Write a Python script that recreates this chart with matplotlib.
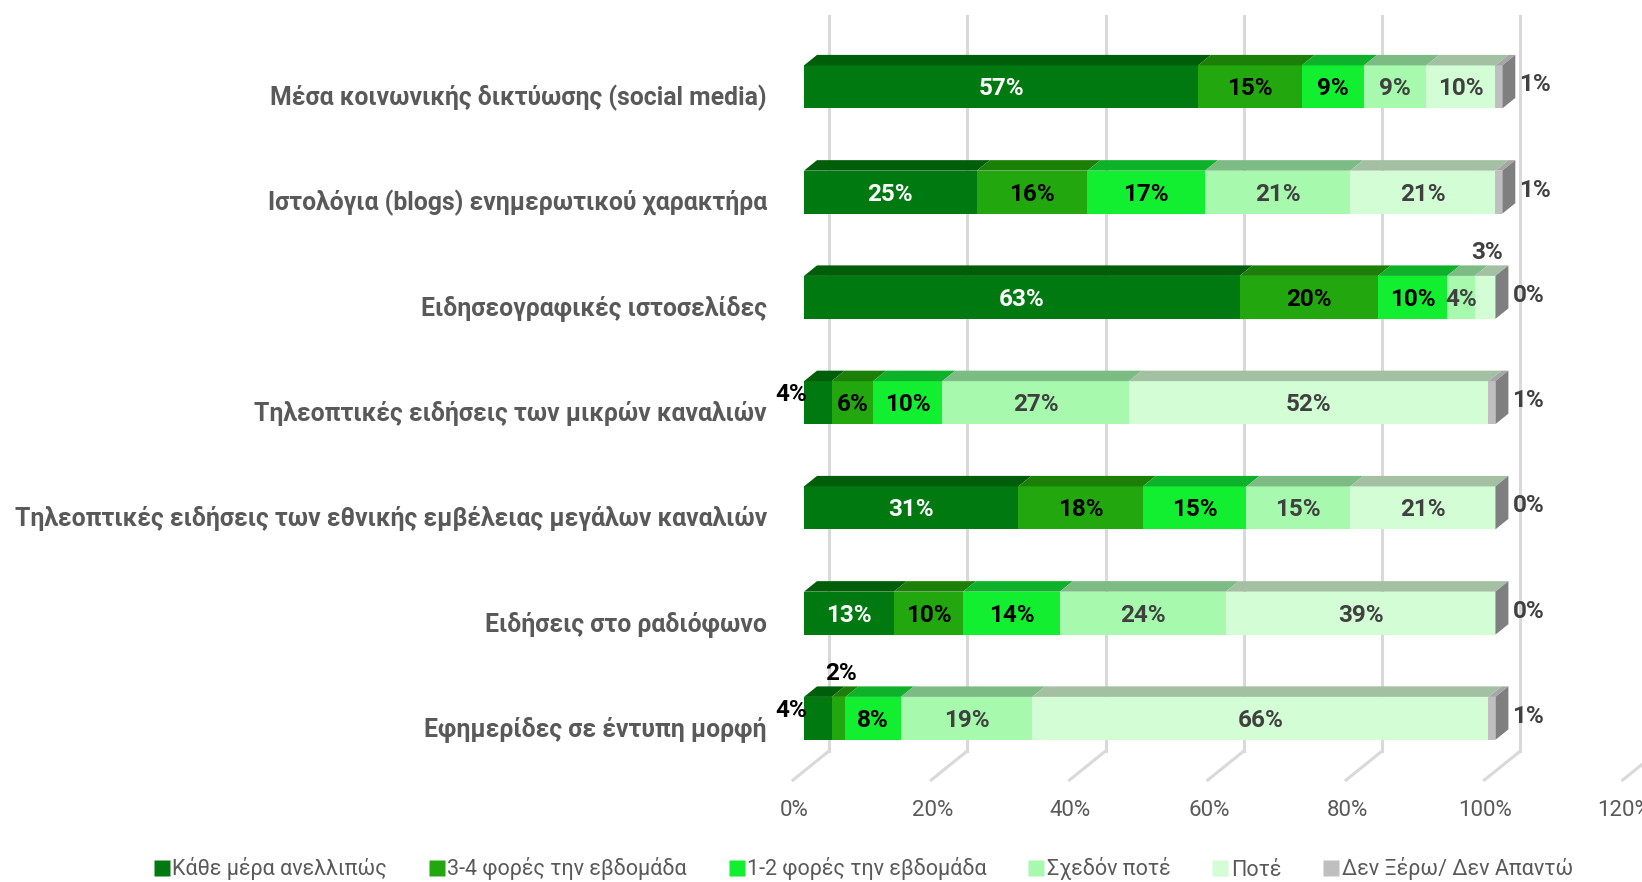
import matplotlib.pyplot as plt
from matplotlib.patches import Polygon
from matplotlib.lines import Line2D

plt.rcParams['font.family'] = ['Roboto', 'DejaVu Sans']

categories = [
    'Μέσα κοινωνικής δικτύωσης (social media)',
    'Ιστολόγια (blogs) ενημερωτικού χαρακτήρα',
    'Ειδησεογραφικές ιστοσελίδες',
    'Τηλεοπτικές ειδήσεις των μικρών καναλιών',
    'Τηλεοπτικές ειδήσεις των εθνικής εμβέλειας μεγάλων καναλιών',
    'Ειδήσεις στο ραδιόφωνο',
    'Εφημερίδες σε έντυπη μορφή',
]
series_names = ['Κάθε μέρα ανελλιπώς', '3-4 φορές την εβδομάδα', '1-2 φορές την εβδομάδα',
                'Σχεδόν ποτέ', 'Ποτέ', 'Δεν Ξέρω/ Δεν Απαντώ']
every_day = [57, 25, 63, 4, 31, 13, 4]
three_four = [15, 16, 20, 6, 18, 10, 2]
one_two = [9, 17, 10, 10, 15, 14, 8]
almost_never = [9, 21, 4, 27, 15, 24, 19]
never = [10, 21, 3, 52, 21, 39, 66]
dont_know = [1, 1, 0, 1, 0, 0, 1]
ticks = [0, 20, 40, 60, 80, 100, 120]

series = [every_day, three_four, one_two, almost_never, never, dont_know]
front_colors = ['#007A10', '#22A80E', '#12EE30', '#A6F9AD', '#D3FDD4', '#BFBFBF']
top_colors = ['#005E0A', '#1C8008', '#0EB12A', '#7DBB85', '#A3C1A2', '#A6A6A6']
side_color = '#7F7F7F'
label_colors = ['white', 'black', 'black', '#404040', '#404040', '#404040']

# pixel geometry of the 3d-looking chart
W, H = 1642, 882
X0_PX, PX_PER_PCT = 804, 6.914      # front face 0% and scale
Y0_PX, PX_PER_ROW = 86.9, 105.25    # first bar centre (from top) and spacing


def px(d):
    return d / PX_PER_PCT


def rows(d):
    return d / PX_PER_ROW


bar_h = rows(43)
ddx, ddy = px(13), rows(10.5)       # bar depth
back_dx = px(25)                    # back wall offset
floor_dx, floor_dy = px(36), rows(29)

fig = plt.figure(figsize=(W / 100, H / 100), dpi=100)
ax = fig.add_axes([0, 0, 1, 1])
ax.set_xlim(-X0_PX / PX_PER_PCT, (W - X0_PX) / PX_PER_PCT)
ax.set_ylim((H - Y0_PX) / PX_PER_ROW, -Y0_PX / PX_PER_ROW)
ax.axis('off')

# back wall gridlines + floor lines
grid_c = '#D9D9D9'
wall_top, wall_bot = rows(16 - Y0_PX), rows(751 - Y0_PX)
for t in ticks:
    ax.plot([t + back_dx, t + back_dx], [wall_top, wall_bot], color=grid_c, lw=2.2, zorder=0)
    ax.plot([t + back_dx, t + back_dx - floor_dx], [wall_bot, wall_bot + floor_dy],
            color=grid_c, lw=2.2, zorder=0)
    ax.text(t - px(10), rows(810 - Y0_PX), f'{t}%', ha='center', va='center',
            fontsize=16, color='#595959')

# bars
for i, cat in enumerate(categories):
    left = 0
    yt, yb = i - bar_h / 2, i + bar_h / 2
    for s, vals in enumerate(series):
        v = vals[i]
        if v > 0:
            ax.barh(i, v, left=left, height=bar_h, color=front_colors[s], zorder=2)
            ax.add_patch(Polygon([(left, yt), (left + v, yt), (left + v + ddx, yt - ddy),
                                  (left + ddx, yt - ddy)], closed=True,
                                 facecolor=top_colors[s], edgecolor='none', zorder=2))
        # labels
        lc = label_colors[s]
        if s == 5:
            ax.text(left + v + ddx + px(4), i - rows(2), f'{v}%', ha='left', va='center',
                    fontsize=17.5, fontweight='bold', color=lc, zorder=4)
        elif s == 0 and v < 5:
            ax.text(left + px(3), i - rows(8), f'{v}%', ha='right', va='center',
                    fontsize=17.5, fontweight='bold', color='black', zorder=4)
        elif v < 4:
            ax.text(left + v / 2 + px(2), yt - ddy - rows(1), f'{v}%', ha='center',
                    va='bottom', fontsize=17.5, fontweight='bold',
                    color='black' if s < 3 else lc, zorder=4)
        else:
            ax.text(left + v / 2, i + rows(2), f'{v}%', ha='center', va='center',
                    fontsize=17.5, fontweight='bold', color=lc, zorder=4)
        left += v
    # end side face
    ax.add_patch(Polygon([(left, yt), (left + ddx, yt - ddy), (left + ddx, yb - ddy),
                          (left, yb)], closed=True, facecolor=side_color,
                         edgecolor='none', zorder=2))
    ax.text(px(-37), i + rows(11), cat, ha='right', va='center', fontsize=17.8,
            fontweight='bold', color='#595959')

handles = [Line2D([], [], marker='s', linestyle='none', markersize=12,
                  markerfacecolor=c, markeredgecolor='none') for c in front_colors]
fig.legend(handles, series_names, loc='center', ncol=6, frameon=False,
           bbox_to_anchor=(863 / W, 1 - 869 / H), fontsize=15.5, labelcolor='#595959',
           handletextpad=0.1, columnspacing=1.9, handlelength=0.8)

fig.savefig('out.png', dpi=100)
